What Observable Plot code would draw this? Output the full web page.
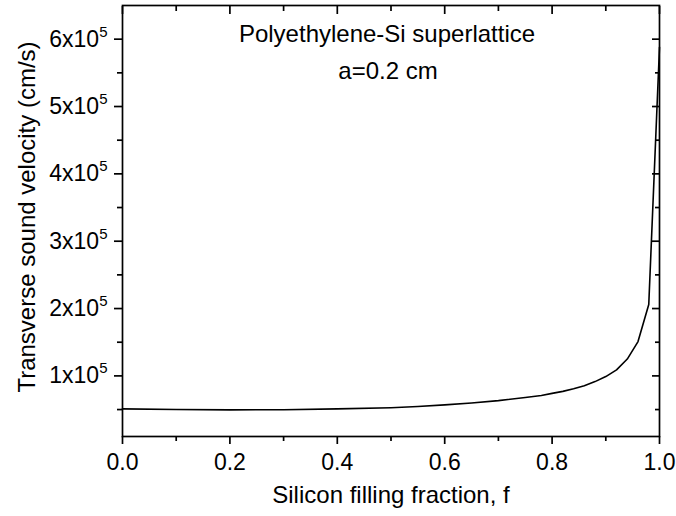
<!DOCTYPE html>
<html>
<head>
<meta charset="utf-8">
<script src="https://cdn.jsdelivr.net/npm/d3@7"></script>
<script src="https://cdn.jsdelivr.net/npm/@observablehq/plot@0.6"></script>
<style>
  html, body { margin: 0; padding: 0; background: #fff; }
</style>
</head>
<body>
<div id="chart"></div>
<script>
// Silicon filling fraction f and the transverse sound velocity (cm/s)
const fraction = [0, 0.1, 0.2, 0.3, 0.4, 0.5, 0.55, 0.6, 0.65, 0.7, 0.75, 0.78, 0.8, 0.82, 0.84, 0.86, 0.88, 0.9, 0.92, 0.94, 0.96, 0.98, 1.0];
const velocity = [51000, 50000, 49500, 49800, 51000, 52800, 54500, 57000, 59800, 63300, 67800, 71000, 74000, 77000, 81000, 85500, 91500, 99000, 109000, 125000, 151000, 206000, 588000];

// Tick positions
const xMajor = [0, 0.2, 0.4, 0.6, 0.8, 1.0];
const xMinor = [0.1, 0.3, 0.5, 0.7, 0.9];
const yMajor = [100000, 200000, 300000, 400000, 500000, 600000];
const yMinor = [50000, 150000, 250000, 350000, 450000, 550000];

// Text
const xTitle = "Silicon filling fraction, f";
const yTitle = "Transverse sound velocity (cm/s)";
const notes = ["Polyethylene-Si superlattice", "a=0.2 cm"];

const data = fraction.map((f, i) => ({f, v: velocity[i]}));
const noFmt = () => "";
const tick = {label: null, strokeWidth: 1.7, stroke: "#000"};
const txt = {text: d => d, fontSize: 24, textAnchor: "middle", lineAnchor: "middle"};

const chart = Plot.plot({
  width: 676,
  height: 516,
  marginLeft: 122,
  marginRight: 17,
  marginTop: 5,
  marginBottom: 80,
  style: {fontFamily: "'Liberation Sans', Arial, sans-serif", fontSize: "23px", color: "#000", background: "#fff"},
  x: {domain: [0, 1]},
  y: {domain: [10000, 650000]},
  marks: [
    // bottom axis: labelled majors, outward; minors shorter
    Plot.axisX({...tick, ticks: xMajor, tickSize: 8, tickPadding: 9, tickFormat: d3.format(".1f")}),
    Plot.axisX({...tick, ticks: xMinor, tickSize: 5, tickFormat: noFmt}),
    // top axis: inward ticks only
    Plot.axisX({...tick, anchor: "top", ticks: xMajor, tickSize: -8, tickFormat: noFmt}),
    Plot.axisX({...tick, anchor: "top", ticks: xMinor, tickSize: -5, tickFormat: noFmt}),
    // left axis
    Plot.axisY({...tick, ticks: yMajor, tickSize: 8, tickPadding: 7, tickFormat: d => `${d / 1e5}x10`}),
    Plot.axisY({...tick, ticks: yMinor, tickSize: 5, tickFormat: noFmt}),
    // right axis: inward ticks only
    Plot.axisY({...tick, anchor: "right", ticks: yMajor, tickSize: -8, tickFormat: noFmt}),
    Plot.axisY({...tick, anchor: "right", ticks: yMinor, tickSize: -5, tickFormat: noFmt}),
    Plot.frame({stroke: "#000", strokeWidth: 1.7}),
    Plot.line(data, {x: "f", y: "v", stroke: "#000", strokeWidth: 1.6}),
    // axis titles
    Plot.text([xTitle], {...txt, frameAnchor: "bottom", dy: 59}),
    Plot.text([yTitle], {...txt, frameAnchor: "left", dx: -95, dy: -4, rotate: -90}),
    // annotation
    Plot.text([notes[0]], {...txt, frameAnchor: "top", dx: -4, dy: 29}),
    Plot.text([notes[1]], {...txt, frameAnchor: "top", dx: -3, dy: 66})
  ]
});

// exponent on the y tick labels
d3.select(chart).selectAll('g[aria-label="y-axis tick label"] text').each(function () {
  const t = d3.select(this);
  if (!t.text()) return;
  t.append("tspan").attr("dy", "-10").attr("font-size", "15px").text("5");
});

document.getElementById("chart").append(chart);
</script>
</body>
</html>
